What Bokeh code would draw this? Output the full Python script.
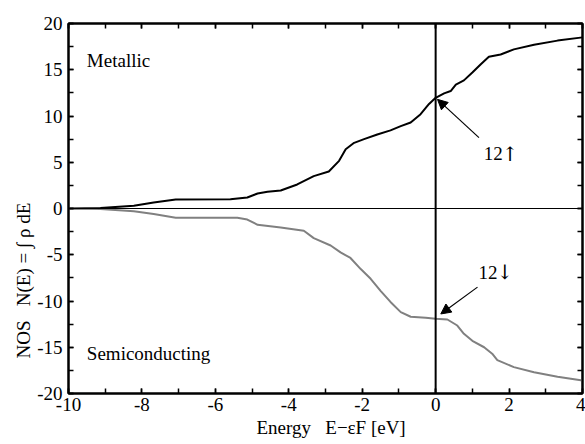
import numpy as np
from bokeh.plotting import figure
from bokeh.models import (Label, Span, Arrow, NormalHead, LinearAxis, Title,
                          SingleIntervalTicker, Range1d, PrintfTickFormatter,
                          CustomJSTickFormatter)
from bokeh.embed import file_html
from bokeh.resources import INLINE

# Metallic (spin up) integrated DOS
E_metal = [-10, -9.13, -8.22, -7.68, -7.08, -5.59, -5.13, -4.85, -4.58, -4.22, -3.77,
           -3.32, -2.91, -2.63, -2.45, -2.22, -1.95, -1.59, -1.23, -0.95, -0.68, -0.41,
           -0.18, 0.0, 0.23, 0.41, 0.55, 0.77, 1.0, 1.23, 1.45, 1.77, 2.13, 2.68, 3.32, 4.0]
N_metal = [0, 0.05, 0.29, 0.65, 0.97, 1.0, 1.19, 1.62, 1.8, 1.95, 2.6,
           3.5, 4.0, 5.15, 6.4, 7.1, 7.5, 8.0, 8.45, 8.9, 9.3, 10.2,
           11.3, 11.97, 12.45, 12.7, 13.4, 13.85, 14.7, 15.6, 16.4, 16.65, 17.2, 17.7, 18.15, 18.5]

# Semiconducting (spin down) integrated DOS, drawn negative
E_semi = [-10, -9.13, -8.22, -7.68, -7.08, -5.4, -5.13, -4.85, -4.22, -3.59, -3.32,
          -2.86, -2.59, -2.32, -2.04, -1.77, -1.5, -1.23, -0.95, -0.68, -0.27, 0.0,
          0.32, 0.59, 0.77, 1.0, 1.32, 1.54, 1.68, 2.13, 2.68, 3.32, 4.0]
N_semi = [0, -0.05, -0.3, -0.6, -1.0, -1.0, -1.2, -1.76, -2.05, -2.4, -3.2,
          -4.0, -4.75, -5.35, -6.55, -7.6, -8.9, -10.1, -11.2, -11.7, -11.8, -11.93,
          -12.0, -12.65, -13.55, -14.3, -15.0, -15.7, -16.4, -17.15, -17.7, -18.2, -18.6]

x_ticks_major = 2
y_ticks_major = 5

FONT = "Liberation Serif"
FS = "19px"
NB = "\u00a0"

p = figure(width=585, height=444, x_range=Range1d(-10, 4), y_range=Range1d(-20, 20),
           output_backend="svg", toolbar_location=None,
           min_border_left=68, min_border_right=3, min_border_top=23, min_border_bottom=51)
p.grid.visible = False
p.outline_line_color = "black"
p.outline_line_width = 2
p.background_fill_color = "white"
p.border_fill_color = "white"

xax = p.below[0]
yax = p.left[0]
xax.ticker = SingleIntervalTicker(interval=x_ticks_major, num_minor_ticks=2)
yax.ticker = SingleIntervalTicker(interval=y_ticks_major, num_minor_ticks=2)
xax.formatter = PrintfTickFormatter(format="%d")
yax.formatter = PrintfTickFormatter(format="%d")

extra_top = LinearAxis(ticker=SingleIntervalTicker(interval=x_ticks_major, num_minor_ticks=2),
                       formatter=CustomJSTickFormatter(code="return ''"))
extra_right = LinearAxis(ticker=SingleIntervalTicker(interval=y_ticks_major, num_minor_ticks=2),
                         formatter=CustomJSTickFormatter(code="return ''"))
p.add_layout(extra_top, "above")
p.add_layout(extra_right, "right")

for ax in [xax, yax, extra_top, extra_right]:
    ax.axis_line_width = 2
    ax.axis_line_color = "black"
    ax.major_tick_in = 5
    ax.major_tick_out = 0
    ax.minor_tick_in = 5
    ax.minor_tick_out = 0
    ax.major_tick_line_width = 1.5
    ax.minor_tick_line_width = 1.5
    ax.major_label_text_font = FONT
    ax.major_label_text_font_size = FS
    ax.major_label_text_color = "black"

for ax in [extra_top, extra_right]:
    ax.major_label_standoff = 0

xax.major_label_standoff = 4
yax.major_label_standoff = 6

# axis titles
p.add_layout(Title(text="NOS" + NB * 3 + "N(E) = ∫ ρ dE", align="left", offset=35,
                   text_font=FONT, text_font_size=FS, text_font_style="normal",
                   text_color="black", standoff=1), "left")
p.add_layout(Title(text="Energy" + NB * 3 + "E−εF [eV]", align="left", offset=188,
                   text_font=FONT, text_font_size=FS, text_font_style="normal",
                   text_color="black", standoff=3), "below")

# zero lines
p.add_layout(Span(location=0, dimension="width", line_color="black", line_width=1.2))
p.add_layout(Span(location=0, dimension="height", line_color="black", line_width=2))

p.line(E_metal, N_metal, line_color="black", line_width=2)
p.line(E_semi, N_semi, line_color="#808080", line_width=2)

# annotations
p.add_layout(Arrow(end=NormalHead(size=10, fill_color="black", line_color="black"),
                   x_start=1.18, y_start=7.66, x_end=0.05, y_end=11.8,
                   line_color="black", line_width=1.2))
p.add_layout(Arrow(end=NormalHead(size=10, fill_color="black", line_color="black"),
                   x_start=1.14, y_start=-8.5, x_end=0.14, y_end=-11.4,
                   line_color="black", line_width=1.2))

def lab(text, x, y, **kw):
    d = dict(text_font=FONT, text_font_size=FS, text_color="black")
    d.update(kw)
    p.add_layout(Label(text=text, x=x, y=y, **d))

lab("12", 1.31, 5.9, text_align="left", text_baseline="middle")
lab("↑", 1.80, 5.9, text_align="left", text_baseline="middle",
    text_font="DejaVu Serif", text_font_size="20px")
lab("12", 1.17, -6.9, text_align="left", text_baseline="middle")
lab("↓", 1.66, -6.9, text_align="left", text_baseline="middle",
    text_font="DejaVu Serif", text_font_size="20px")
lab("Metallic", -9.5, 16.0, text_align="left", text_baseline="middle")
lab("Semiconducting", -9.5, -15.7, text_align="left", text_baseline="middle")

open("out.html", "w").write(file_html(p, INLINE))
